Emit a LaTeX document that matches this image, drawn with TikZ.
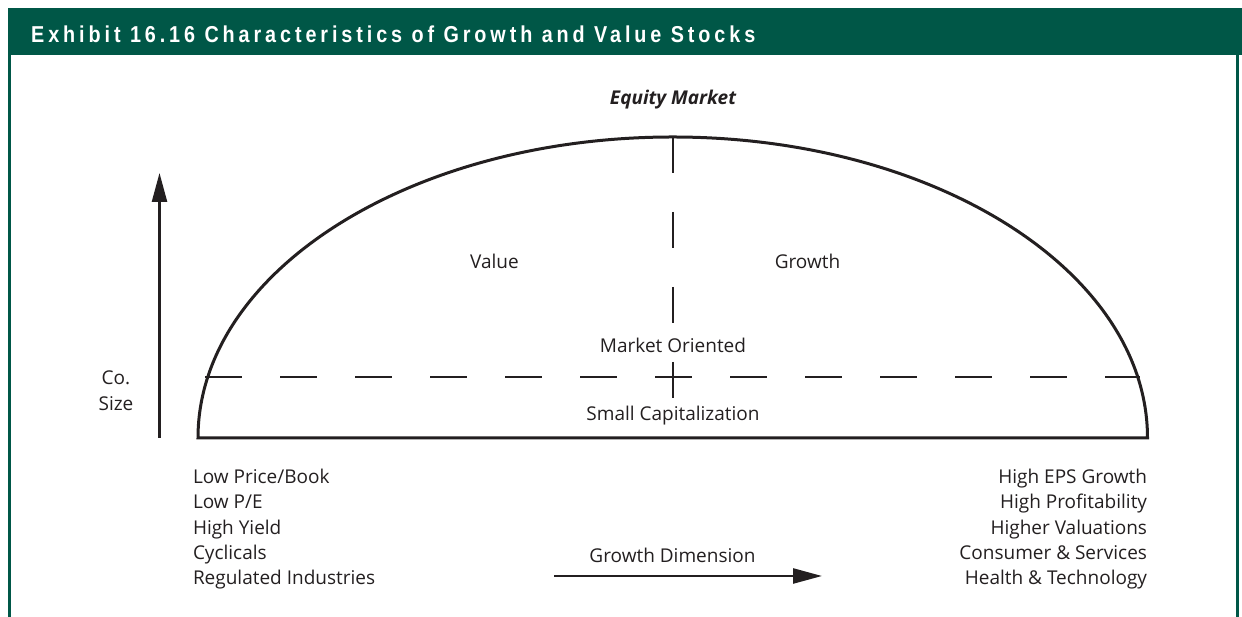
\documentclass[tikz,border=0pt]{standalone}
\usepackage{fontspec}
\setmainfont{Open Sans}
\newfontfamily\hdrfont[LetterSpace=17,FakeStretch=0.86]{Liberation Sans}
\usetikzlibrary{arrows.meta}
\definecolor{exgreen}{RGB}{0,87,71}
\definecolor{ink}{RGB}{35,31,32}
\begin{document}
\begin{tikzpicture}[x=1pt,y=1pt,
  lbl/.style={inner sep=0pt, outer sep=0pt, text=ink, font=\fontsize{19}{22}\selectfont},
  dome/.style={draw=ink, line width=3pt},
  dashline/.style={draw=ink, line width=2.5pt},
  axis/.style={draw=ink, line width=2.5pt, -{Triangle[length=29pt,width=15pt]}},
  frame/.style={draw=exgreen, line width=3pt}]
\useasboundingbox (0,0) rectangle (1242,617);
% header and frame
\fill[exgreen] (8,562) rectangle (1242,609);
\draw[frame] (9.5,0) -- (9.5,562);
\draw[frame] (1237.5,0) -- (1237.5,562);
\node[anchor=base west, inner sep=0pt, text=white, font={\hdrfont\bfseries\fontsize{23}{27}\selectfont}] (title) at (31,574.5) {Exhibit 16.16 Characteristics of Growth and Value Stocks};
% dome
\draw[dome] (198,179) arc[start angle=180, end angle=0, x radius=474.75, y radius=301] -- cycle;
% dashed dividers
\coordinate (vtop) at (673,480);
\coordinate (vbot) at (673,179);
\draw[dashline, dash pattern=on 36pt off 39pt] (vtop) -- (vbot);
\coordinate (hl) at (205,240);
\coordinate (hr) at (1140,240);
\draw[dashline, dash pattern=on 37pt off 38pt] (hl) -- (hr);
% axes
\coordinate (ya0) at (159.5,179);
\coordinate (ya1) at (159.5,444);
\draw[axis] (ya0) -- (ya1);
\coordinate (xa0) at (554,41);
\coordinate (xa1) at (822,41);
\draw[axis] (xa0) -- (xa1);
% labels
\node[lbl, anchor=base, font=\bfseries\itshape\fontsize{19}{22}\selectfont] (eq) at (673,512) {Equity Market};
\node[lbl, anchor=base] (value) at (494.5,348) {Value};
\node[lbl, anchor=base] (growth) at (807.5,348) {Growth};
\node[lbl, anchor=base] (mkt) at (673,264.5) {Market Oriented};
\node[lbl, anchor=base] (small) at (673,196) {Small Capitalization};
\node[lbl, anchor=base] (co) at (116,232) {Co.};
\node[lbl, anchor=base] (size) at (116,206.3) {Size};
\node[lbl, anchor=base] (gdim) at (672.5,54.7) {Growth Dimension};
% left list
\node[lbl, anchor=base west] (l1) at (193,133.7) {Low Price/Book};
\node[lbl, anchor=base west] (l2) at (193,108.3) {Low P/E};
\node[lbl, anchor=base west] (l3) at (193,82.9) {High Yield};
\node[lbl, anchor=base west] (l4) at (193,57.5) {Cyclicals};
\node[lbl, anchor=base west] (l5) at (193,32.1) {Regulated Industries};
% right list
\node[lbl, anchor=base east] (r1) at (1147,133.7) {High EPS Growth};
\node[lbl, anchor=base east] (r2) at (1147,108.3) {High Profitability};
\node[lbl, anchor=base east] (r3) at (1147,82.9) {Higher Valuations};
\node[lbl, anchor=base east] (r4) at (1147,57.5) {Consumer \& Services};
\node[lbl, anchor=base east] (r5) at (1147,32.1) {Health \& Technology};
\end{tikzpicture}
\end{document}
